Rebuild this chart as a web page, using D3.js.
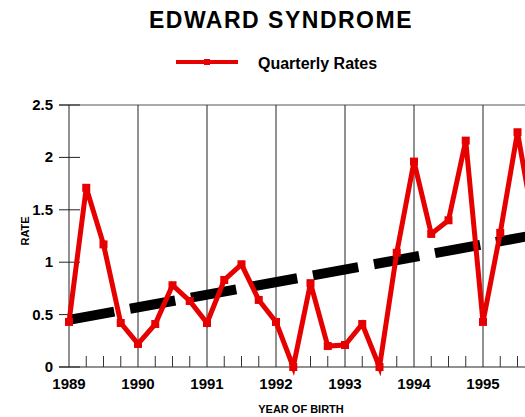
<!DOCTYPE html>
<html>
<head>
<meta charset="utf-8">
<script src="https://cdn.jsdelivr.net/npm/d3@7"></script>
<style>
  body { margin: 0; background: #fff; }
  svg { display: block; font-family: "Liberation Sans", Arial, sans-serif; font-weight: bold; }
</style>
</head>
<body>
<div id="chart"></div>
<script>
// quarterly rates, 1989 Q1 onwards
const quarters = d3.range(28).map(i => 1989 + i / 4);
const rates = [0.43, 1.71, 1.17, 0.42, 0.22, 0.41, 0.78, 0.63,
               0.42, 0.83, 0.98, 0.64, 0.43, 0.00, 0.80, 0.20,
               0.21, 0.41, 0.00, 1.09, 1.96, 1.27, 1.40, 2.16,
               0.43, 1.28, 2.24, 1.30];
const trendYears = [1989, 1996];
const trendValues = [0.45, 1.29];
const yearTicks = [1989, 1990, 1991, 1992, 1993, 1994, 1995];
const rateTicks = [0, 0.5, 1, 1.5, 2, 2.5];

const width = 525;
const height = 417;
const margin = { top: 105, right: 0, bottom: 50, left: 69 };

const svg = d3.select('#chart')
    .append('svg')
    .attr('width', width)
    .attr('height', height);

const x = d3.scaleLinear()
    .domain([1989, 1996])
    .range([margin.left, margin.left + 69 * 7]);

const y = d3.scaleLinear()
    .domain([0, 2.5])
    .range([367, margin.top]);

// title + legend
svg.append('text')
    .attr('x', 281).attr('y', 28)
    .attr('text-anchor', 'middle')
    .style('font-size', '23px')
    .style('letter-spacing', '1.5px')
    .text('EDWARD SYNDROME');

svg.append('line')
    .attr('x1', 176).attr('x2', 238)
    .attr('y1', 62).attr('y2', 62)
    .attr('stroke', '#e60000').attr('stroke-width', 4);
svg.append('rect')
    .attr('x', 204).attr('y', 59).attr('width', 6).attr('height', 6)
    .attr('fill', '#e60000');
svg.append('text')
    .attr('x', 258).attr('y', 69)
    .style('font-size', '16px')
    .text('Quarterly Rates');

// frame lines
svg.append('line')
    .attr('x1', 59).attr('x2', width)
    .attr('y1', y(2.5)).attr('y2', y(2.5))
    .attr('stroke', '#555');
svg.append('line')
    .attr('x1', 59).attr('x2', width)
    .attr('y1', y(0)).attr('y2', y(0))
    .attr('stroke', '#222');

// year gridlines
svg.append('g')
    .selectAll('line')
    .data(yearTicks)
    .join('line')
    .attr('x1', d => x(d)).attr('x2', d => x(d))
    .attr('y1', y(2.5)).attr('y2', y(0))
    .attr('stroke', '#222');

// quarter minor ticks
svg.append('g')
    .selectAll('line')
    .data(quarters.filter(q => q % 1 !== 0))
    .join('line')
    .attr('x1', d => x(d)).attr('x2', d => x(d))
    .attr('y1', y(0) - 11).attr('y2', y(0))
    .attr('stroke', '#333');

// y axis cross ticks
svg.append('g')
    .selectAll('line')
    .data(rateTicks)
    .join('line')
    .attr('x1', 59).attr('x2', 80)
    .attr('y1', d => y(d)).attr('y2', d => y(d))
    .attr('stroke', '#222');

svg.append('g')
    .selectAll('text')
    .data(rateTicks)
    .join('text')
    .attr('x', 53)
    .attr('y', d => y(d) + 5)
    .attr('text-anchor', 'end')
    .style('font-size', '15px')
    .text(d => d);

svg.append('g')
    .selectAll('text')
    .data(yearTicks)
    .join('text')
    .attr('x', d => x(d))
    .attr('y', 389)
    .attr('text-anchor', 'middle')
    .style('font-size', '15px')
    .text(d => d);

svg.append('text')
    .attr('transform', 'translate(29, 231) rotate(-90)')
    .attr('text-anchor', 'middle')
    .style('font-size', '11px')
    .text('RATE');

svg.append('text')
    .attr('x', 301).attr('y', 413)
    .attr('text-anchor', 'middle')
    .style('font-size', '11px')
    .text('YEAR OF BIRTH');

// trend line
svg.append('line')
    .attr('x1', x(trendYears[0])).attr('x2', x(trendYears[1]))
    .attr('y1', y(trendValues[0])).attr('y2', y(trendValues[1]))
    .attr('stroke', '#000')
    .attr('stroke-width', 10)
    .attr('stroke-dasharray', '46,16');

// quarterly series
const pts = quarters.map((q, i) => ({ q, v: rates[i] }));

svg.append('path')
    .datum(pts)
    .attr('fill', 'none')
    .attr('stroke', '#e60000')
    .attr('stroke-width', 5)
    .attr('stroke-linejoin', 'miter')
    .attr('d', d3.line().x(d => x(d.q)).y(d => y(d.v)));

svg.append('g')
    .selectAll('rect')
    .data(pts)
    .join('rect')
    .attr('x', d => x(d.q) - 4)
    .attr('y', d => y(d.v) - 4)
    .attr('width', 8).attr('height', 8)
    .attr('fill', '#e60000');
</script>
</body>
</html>
